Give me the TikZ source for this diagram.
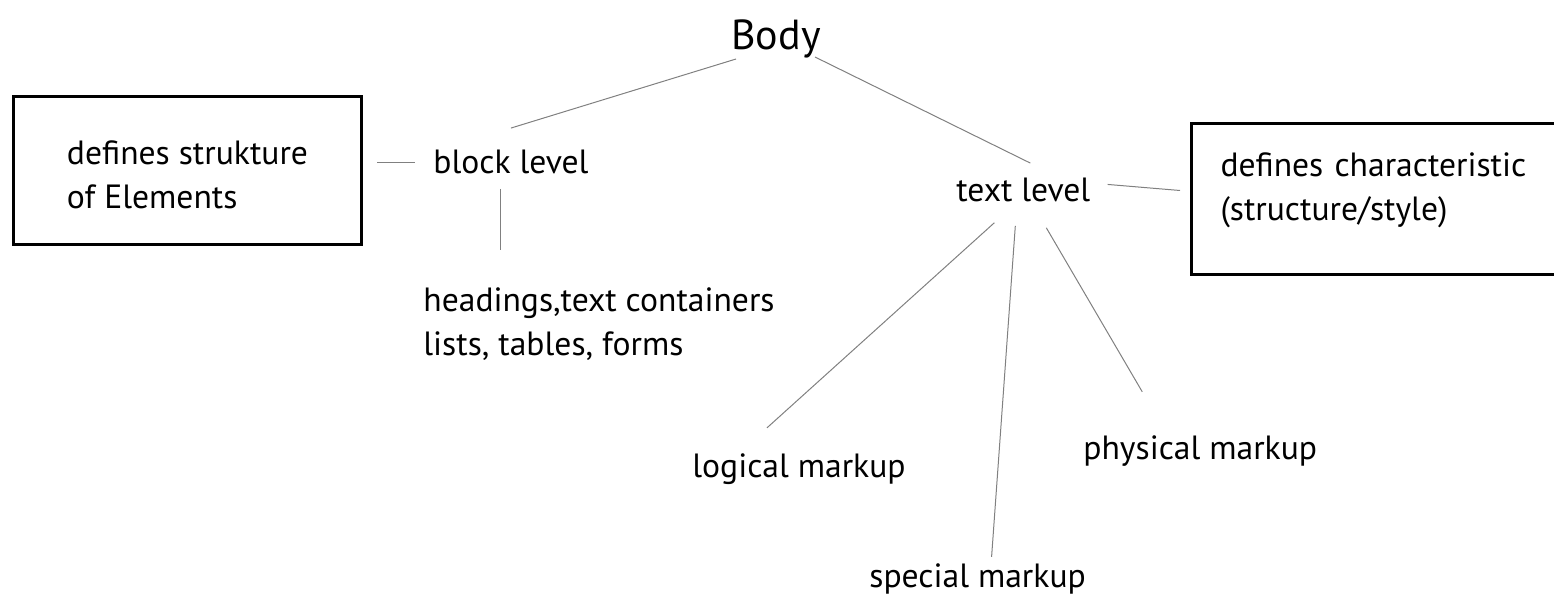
\documentclass[tikz,border=0pt]{standalone}
\usepackage{fontspec}
\setmainfont{PT Sans}
\usetikzlibrary{positioning}

\begin{document}
\begin{tikzpicture}[x=0.5pt,y=-0.5pt,
  lbl/.style={inner sep=0pt, font=\fontsize{16.8}{22}\selectfont, align=left},
  infobox/.style={draw, line width=1.5pt, inner ysep=0pt, font=\fontsize{16.8}{22}\selectfont, align=left},
  link/.style={draw=black!50, line width=0.5pt}]
\useasboundingbox (0,0) rectangle (1554,598);

% Text Nodes
\node (body) [lbl, anchor=base west, font=\fontsize{21}{26}\selectfont] at (731,50) {Body};
\node (block) [lbl, anchor=base west] at (433,174) {block level};
\node (heads) [lbl, anchor=base west] at (423,356) {headings,text containers\\lists, tables, forms};
\node (textlvl) [lbl, anchor=base west] at (956,202) {text level};
\node (logical) [lbl, anchor=base west] at (692,478) {logical markup};
\node (special) [lbl, anchor=base west] at (869,588) {special markup};
\node (physical) [lbl, anchor=base west] at (1083,460) {physical markup};

% Boxes
\node (lbox) [infobox, anchor=north west, minimum width=174pt, minimum height=74pt, text height=38pt, text depth=0pt] at (12,95) {defines strukture\\of Elements};
\node (rbox) [infobox, anchor=north west, minimum width=220pt, minimum height=75.5pt, inner xsep=14.5pt, text width=191pt, text height=12pt, text depth=34.5pt] at (1190,122) {defines characteristic\\(structure/style)};

% Straight Lines
\draw [link] ([xshift=-20pt]body.south) -- ([yshift=11pt]block.north);
\draw [link] ([xshift=19.5pt,yshift=1pt]body.south) -- ([xshift=3.5pt,yshift=7.5pt]textlvl.north);
\draw [link] ([xshift=7pt]lbox.east |- block.west) -- ([xshift=-9pt]block.west);
\draw [link] ([xshift=-5pt,yshift=-7pt]block.south) -- ([xshift=-5pt,yshift=19pt]block.south |- heads.north);
\draw [link] ([xshift=8.5pt,yshift=3pt]textlvl.east) -- ([xshift=-5pt,yshift=4.25pt]rbox.west);
\draw [link] ([xshift=-14.5pt,yshift=-10pt]textlvl.south) -- ([xshift=-16pt,yshift=13pt]logical.north);
\draw [link] ([xshift=-4pt,yshift=-11.5pt]textlvl.south) -- ([xshift=7pt,yshift=3.5pt]special.north);
\draw [link] ([xshift=11.5pt,yshift=-12.5pt]textlvl.south) -- ([xshift=-29pt,yshift=22pt]physical.north);

\end{tikzpicture}
\end{document}
